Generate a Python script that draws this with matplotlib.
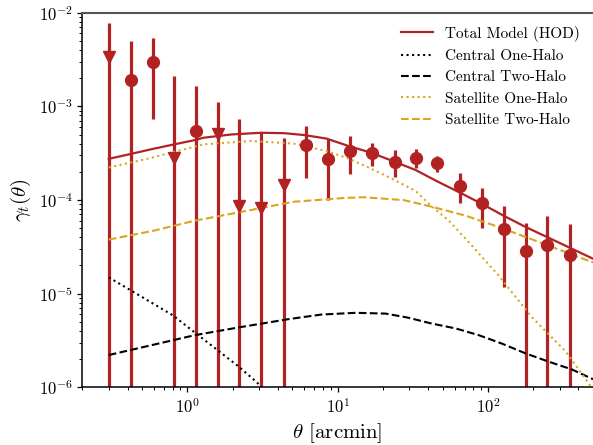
import numpy as np
import matplotlib
matplotlib.use("Agg")
import matplotlib.pyplot as plt

plt.rcParams['font.family'] = 'serif'
plt.rcParams['font.serif'] = ['cmr10']
plt.rcParams['mathtext.fontset'] = 'cm'
plt.rcParams['axes.formatter.use_mathtext'] = True
plt.rcParams['axes.unicode_minus'] = False

# ---- data ----
theta = [0.3, 0.42, 0.59, 0.82, 1.15, 1.6, 2.2, 3.1, 4.4, 6.2, 8.6,
         12.0, 17.0, 24.0, 33.0, 46.0, 65.0, 91.0, 127.0, 178.0, 249.0, 349.0]
gamma_t = [3.36e-3, 1.93e-3, 3.01e-3, 2.79e-4, 5.43e-4, 5.01e-4, 8.6e-5, 8.2e-5,
           1.44e-4, 3.9e-4, 2.74e-4, 3.33e-4, 3.21e-4, 2.57e-4, 2.83e-4, 2.47e-4,
           1.42e-4, 9.27e-5, 4.91e-5, 2.82e-5, 3.32e-5, 2.60e-5]
gamma_hi = [7.83e-3, 5.0e-3, 5.34e-3, 2.12e-3, 1.66e-3, 1.12e-3, 7.25e-4, 5.36e-4,
            4.55e-4, 6.15e-4, 4.43e-4, 4.81e-4, 4.09e-4, 3.39e-4, 3.47e-4, 2.93e-4,
            1.93e-4, 1.34e-4, 8.6e-5, 5.69e-5, 6.7e-5, 5.5e-5]
gamma_lo = [1e-9, 1e-9, 7.36e-4, 1e-9, 1e-9, 1e-9, 1e-9, 1e-9,
            1e-9, 1.72e-4, 9.9e-5, 1.90e-4, 2.28e-4, 1.74e-4, 2.17e-4, 2.01e-4,
            9.2e-5, 5.07e-5, 1.18e-5, 1e-9, 1e-9, 1e-9]
negative = [True, False, False, True, False, True, True, True, True, False, False,
            False, False, False, False, False, False, False, False, False, False, False]

# model curves
total_x = [0.3, 0.42, 0.57, 0.82, 1.15, 1.28, 1.97, 3.07, 4.4, 6.04, 8.45, 11.8,
           16.6, 23.2, 33.0, 46.0, 65.0, 91.0, 127.0, 178.0, 249.0, 349.0, 500.0]
total_y = [2.75e-4, 3.1e-4, 3.47e-4, 3.93e-4, 4.4e-4, 4.62e-4, 5.01e-4, 5.22e-4,
           5.17e-4, 4.93e-4, 4.52e-4, 3.77e-4, 3.21e-4, 2.61e-4, 2.09e-4, 1.58e-4,
           1.20e-4, 9.1e-5, 6.8e-5, 5.15e-5, 4.0e-5, 3.1e-5, 2.36e-5]

cen1h_x = [0.3, 0.41, 0.80, 1.12, 2.2, 2.9, 4.0]
cen1h_y = [1.49e-5, 1.11e-5, 5.87e-6, 3.85e-6, 1.66e-6, 1.13e-6, 6.5e-7]

cen2h_x = [0.3, 1.12, 2.2, 4.74, 7.8, 13.2, 20.9, 29.7, 42.0, 61.0, 87.0, 123.0,
           178.0, 253.0, 362.0, 500.0]
cen2h_y = [2.21e-6, 3.6e-6, 4.36e-6, 5.35e-6, 5.98e-6, 6.24e-6, 6.12e-6, 5.52e-6,
           4.8e-6, 4.25e-6, 3.6e-6, 2.94e-6, 2.30e-6, 1.88e-6, 1.55e-6, 1.22e-6]

sat1h_x = [0.3, 0.57, 1.28, 2.64, 5.1, 8.45, 11.8, 16.6, 23.2, 33.0, 42.2, 55.0,
           71.2, 117.8, 195.0, 330.0, 500.0]
sat1h_y = [2.22e-4, 2.81e-4, 3.93e-4, 4.26e-4, 4.0e-4, 3.33e-4, 2.77e-4, 2.17e-4,
           1.67e-4, 1.25e-4, 8.55e-5, 6.0e-5, 3.84e-5, 1.56e-5, 5.65e-6, 2.4e-6, 9.5e-7]

sat2h_x = [0.3, 0.6, 1.12, 2.2, 5.1, 11.0, 14.9, 27.5, 42.2, 71.2, 117.8, 253.0, 500.0]
sat2h_y = [3.78e-5, 4.71e-5, 6.01e-5, 7.38e-5, 9.57e-5, 1.05e-4, 1.07e-4, 9.97e-5,
           8.48e-5, 6.79e-5, 5.15e-5, 3.26e-5, 2.15e-5]

red = '#B22222'
gold = '#DAA520'

fig = plt.figure(figsize=(5.93, 4.45), dpi=100)
ax = fig.add_axes([0.1388, 0.1297, 0.8612, 0.8418])
ax.set_xscale('log')
ax.set_yscale('log')

ax.plot(total_x, total_y, color=red, lw=1.6, label='Total Model (HOD)', zorder=3)
ax.plot(cen1h_x, cen1h_y, color='black', lw=1.5, ls=':', label='Central One-Halo', zorder=3)
ax.plot(cen2h_x, cen2h_y, color='black', lw=1.5, ls='--', label='Central Two-Halo', zorder=3)
ax.plot(sat1h_x, sat1h_y, color=gold, lw=1.5, ls=':', label='Satellite One-Halo', zorder=3)
ax.plot(sat2h_x, sat2h_y, color=gold, lw=1.5, ls='--', label='Satellite Two-Halo', zorder=3)

th = np.array(theta)
g = np.array(gamma_t)
ax.vlines(th, gamma_lo, gamma_hi, color=red, lw=2.3, zorder=2)
neg = np.array(negative)
ax.plot(th[~neg], g[~neg], 'o', color=red, ms=8.5, zorder=4, lw=0)
ax.plot(th[neg], g[neg], 'v', color=red, ms=8, zorder=4, lw=0)

ax.set_xlim(0.2, 500)
ax.set_ylim(1e-6, 1e-2)

ax.spines['right'].set_visible(False)
ax.spines['top'].set_color('#555555')
ax.spines['top'].set_linewidth(1.5)
ax.spines['left'].set_linewidth(1.1)
ax.spines['bottom'].set_linewidth(1.1)
ax.tick_params(which='major', direction='out', length=3.5, width=0.9, labelsize=12, top=False, right=False)
ax.tick_params(which='minor', direction='out', length=2, width=0.7, top=False, right=False)

ax.set_xlabel(r'$\theta$ [arcmin]', fontsize=15)
ax.set_ylabel(r'$\gamma_t(\theta)$', fontsize=15)

ax.legend(loc='upper right', frameon=False, fontsize=11, handlelength=2.1,
          labelspacing=0.5, borderaxespad=0.45)

fig.savefig('out.png', dpi=100)
